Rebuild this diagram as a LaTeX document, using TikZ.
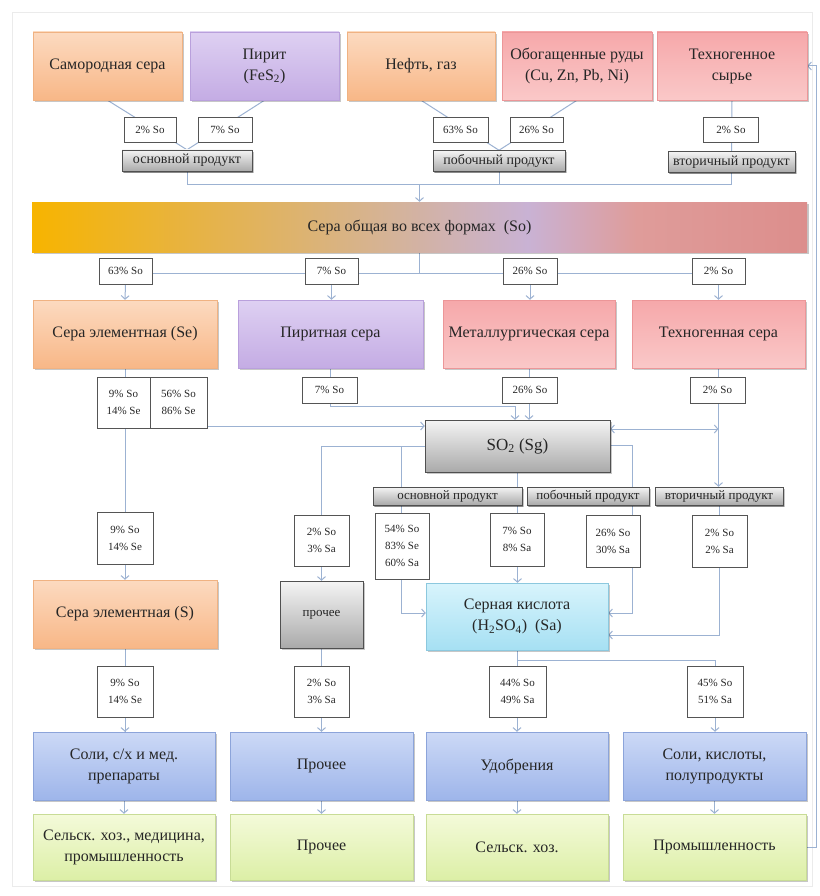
\documentclass[tikz,border=0pt]{standalone}
\usepackage{fontspec}
\setmainfont{Liberation Serif}
\usetikzlibrary{arrows.meta,shadows}
\pgfdeclarelayer{back}
\pgfdeclarelayer{bg}
\pgfsetlayers{back,bg,main}
\definecolor{ln}{HTML}{9CB2D2}
\definecolor{txt}{HTML}{262626}
\definecolor{barA}{HTML}{F7B400}
\definecolor{barB}{HTML}{DDB36E}
\definecolor{barC}{HTML}{C9B2D4}
\definecolor{barD}{HTML}{DF9C9A}
\definecolor{barE}{HTML}{DC8E8C}
\pgfdeclarehorizontalshading{barshade}{100bp}{color(0bp)=(barA); color(25bp)=(barA); color(42bp)=(barB); color(57bp)=(barC); color(64bp)=(barD); color(75bp)=(barE); color(100bp)=(barE)}
\tikzset{
  base/.style={inner sep=0pt, align=center, text=txt, font=\fontsize{16}{21}\selectfont,
    drop shadow={shadow xshift=1.5pt, shadow yshift=-2pt, fill=black, opacity=0.22}, line width=0.5pt},
  obox/.style={base, top color={rgb,255:red,252;green,218;blue,192}, bottom color={rgb,255:red,248;green,183;blue,135}, draw={rgb,255:red,240;green,178;blue,130}},
  vbox/.style={base, top color={rgb,255:red,222;green,208;blue,242}, bottom color={rgb,255:red,196;green,172;blue,228}, draw={rgb,255:red,185;green,160;blue,220}},
  rbox/.style={base, top color={rgb,255:red,246;green,168;blue,170}, bottom color={rgb,255:red,250;green,200;blue,200}, draw={rgb,255:red,236;green,150;blue,152}},
  gbox/.style={base, top color={rgb,255:red,244;green,244;blue,244}, bottom color={rgb,255:red,170;green,170;blue,170}, draw={rgb,255:red,80;green,80;blue,80}},
  cbox/.style={base, top color={rgb,255:red,216;green,244;blue,252}, bottom color={rgb,255:red,166;green,224;blue,243}, draw={rgb,255:red,140;green,200;blue,222}},
  bbox/.style={base, top color={rgb,255:red,204;green,217;blue,246}, bottom color={rgb,255:red,158;green,181;blue,234}, draw={rgb,255:red,140;green,164;blue,218}},
  lbox/.style={base, top color={rgb,255:red,244;green,250;blue,218}, bottom color={rgb,255:red,220;green,239;blue,166}, draw={rgb,255:red,200;green,220;blue,150}},
  lab/.style={gbox, font=\fontsize{13}{15}\selectfont, drop shadow={shadow xshift=1.2pt, shadow yshift=-1.8pt, fill=black, opacity=0.3}},
  pct/.style={inner sep=0pt, align=center, text=txt, fill=white, draw={rgb,255:red,85;green,85;blue,85}, line width=0.8pt, font=\fontsize{11}{17}\selectfont},
  conn/.style={draw=ln, line width=1pt},
  arr/.style={conn, -{Straight Barb[length=3.5pt,width=8pt]}},
  darr/.style={conn, {Straight Barb[length=3.5pt,width=8pt]}-{Straight Barb[length=3.5pt,width=8pt]}}
}
\begin{document}
\begin{tikzpicture}[x=1pt,y=-1pt]
\useasboundingbox (0,0) rectangle (819,896);
\begin{pgfonlayer}{back}
\fill[white] (0,0) rectangle (819,896);
\draw[black!8, line width=0.8pt] (12,12) rectangle (812,886);
\end{pgfonlayer}

% top row
\node[obox, minimum width=149, minimum height=68] (sam) at (107.5,66) {Самородная сера};
\node[vbox, minimum width=149, minimum height=68] (pir) at (264.5,66) {Пирит\\(FeS\textsubscript{2})};
\node[obox, minimum width=148, minimum height=68] (nef) at (421,66) {Нефть, газ};
\node[rbox, minimum width=150, minimum height=68] (obo) at (577,66) {Обогащенные руды\\(Cu, Zn, Pb, Ni)};
\node[rbox, minimum width=150, minimum height=68] (teh) at (732,66) {Техногенное\\сырье};

\node[pct, minimum width=52, minimum height=25] (p1) at (150,129.5) {2\% So};
\node[pct, minimum width=54, minimum height=25] (p2) at (225,129.5) {7\% So};
\node[pct, minimum width=55, minimum height=25] (p3) at (460.5,129.5) {63\% So};
\node[pct, minimum width=53, minimum height=25] (p4) at (536.5,129.5) {26\% So};
\node[pct, minimum width=55, minimum height=25] (p5) at (731,129.5) {2\% So};

\node[lab, minimum width=130, minimum height=21, font=\fontsize{14}{15}\selectfont] (osn1) at (187,160.5) {основной продукт};
\node[lab, minimum width=132, minimum height=21, font=\fontsize{14}{15}\selectfont] (pob1) at (499,161) {побочный продукт};
\node[lab, minimum width=127, minimum height=21, font=\fontsize{14}{15}\selectfont] (vto1) at (731.5,162) {вторичный продукт};

\coordinate (colY) at (0,185);

% bar
\node[base, shading=barshade, draw=none, minimum width=775, minimum height=50] (bar) at (419.5,227) {Сера общая во всех формах ~(So)};

\coordinate (disY) at (0,273);
\node[pct, minimum width=53, minimum height=26] (d1) at (125.5,271) {63\% So};
\node[pct, minimum width=53, minimum height=26] (d2) at (331.5,271) {7\% So};
\node[pct, minimum width=54, minimum height=26] (d3) at (530,271) {26\% So};
\node[pct, minimum width=53, minimum height=26] (d4) at (718.5,271) {2\% So};

% row 2
\node[obox, minimum width=184, minimum height=68] (se) at (125,334) {Сера элементная (Se)};
\node[vbox, minimum width=185, minimum height=68] (ps) at (330.5,334) {Пиритная сера};
\node[rbox, minimum width=172, minimum height=68] (ms) at (529,334) {Металлургическая сера};
\node[rbox, minimum width=173, minimum height=68] (ts) at (718.5,334) {Техногенная сера};

\node[pct, minimum width=53, minimum height=51] (dl) at (123.5,402.5) {9\% So\\14\% Se};
\node[pct, minimum width=57, minimum height=51] (dr) at (178.5,402.5) {56\% So\\86\% Se};
\node[pct, minimum width=55, minimum height=26] (e2) at (329.5,390) {7\% So};
\node[pct, minimum width=55, minimum height=26] (e3) at (530,390) {26\% So};
\node[pct, minimum width=55, minimum height=26] (e4) at (717.5,390) {2\% So};

\node[gbox, minimum width=185, minimum height=52, font=\fontsize{17}{21}\selectfont] (so2) at (517.5,446) {SO\textsubscript{2} (Sg)};

\node[lab, minimum width=149, minimum height=18] (osn2) at (447.5,496) {основной продукт};
\node[lab, minimum width=122, minimum height=18] (pob2) at (588,496) {побочный продукт};
\node[lab, minimum width=128, minimum height=18] (vto2) at (719,496) {вторичный продукт};

\node[pct, minimum width=56, minimum height=52] (f1) at (125,538) {9\% So\\14\% Se};
\node[pct, minimum width=55, minimum height=51] (f2) at (321.5,540.5) {2\% So\\3\% Sa};
\node[pct, minimum width=54, minimum height=66] (f3) at (402,546) {54\% So\\83\% Se\\60\% Sa};
\node[pct, minimum width=54, minimum height=53] (f4) at (517,539.5) {7\% So\\8\% Sa};
\node[pct, minimum width=54, minimum height=52] (f5) at (613,541) {26\% So\\30\% Sa};
\node[pct, minimum width=55, minimum height=52] (f6) at (719.5,541) {2\% So\\2\% Sa};

% row 3
\node[obox, minimum width=184, minimum height=68] (ses) at (125,614) {Сера элементная (S)};
\node[gbox, minimum width=83, minimum height=67, font=\fontsize{13}{15}\selectfont] (pro) at (321.5,614.5) {прочее};
\node[cbox, minimum width=182, minimum height=67] (h2) at (517,616.5) {Серная кислота\\(H\textsubscript{2}SO\textsubscript{4}) ~(Sa)};

\node[pct, minimum width=56, minimum height=51] (r1) at (125,691.5) {9\% So\\14\% Se};
\node[pct, minimum width=55, minimum height=51] (r2) at (321.5,691.5) {2\% So\\3\% Sa};
\node[pct, minimum width=57, minimum height=51] (r3) at (517.5,691.5) {44\% So\\49\% Sa};
\node[pct, minimum width=56, minimum height=51] (r4) at (715,691.5) {45\% So\\51\% Sa};

% blue row
\node[bbox, minimum width=182, minimum height=68] (b1) at (124,766) {Соли, с/х и мед.\\препараты};
\node[bbox, minimum width=183, minimum height=68] (b2) at (321.5,766) {Прочее};
\node[bbox, minimum width=182, minimum height=68] (b3) at (517,766) {Удобрения};
\node[bbox, minimum width=183, minimum height=68] (b4) at (714.5,766) {Соли, кислоты,\\полупродукты};

% green row
\node[lbox, minimum width=182, minimum height=66] (g1) at (124,847) {Сельск. хоз., медицина,\\промышленность};
\node[lbox, minimum width=183, minimum height=66] (g2) at (321.5,847) {Прочее};
\node[lbox, minimum width=182, minimum height=66] (g3) at (517,847) {Сельск. хоз.};
\node[lbox, minimum width=183, minimum height=66] (g4) at (714.5,847) {Промышленность};

\coordinate (fbX) at (816,0);
\coordinate (pyrY) at (515,406);
\coordinate (ljX) at (401,446);

\begin{pgfonlayer}{bg}
% top
\draw[conn] (sam.south) -- (osn1.north);
\draw[conn] (pir.south) -- (osn1.north);
\draw[conn] (nef.south) -- (pob1.north);
\draw[conn] (obo.south) -- (pob1.north);
\draw[conn] (teh.south) -- (vto1.north);
\draw[conn] (osn1.south) |- (colY -| vto1.south) -- (vto1.south);
\draw[conn] (pob1.south) -- (pob1.south |- colY);
\draw[arr] (bar.north |- colY) -- (bar.north);
% distribution
\draw[conn] (bar.south) -- (bar.south |- disY);
\draw[conn] (d1.center |- disY) -- (d4.center |- disY);
\draw[arr] (d1.south) -- (se.north);
\draw[arr] (d2.south) -- (d2.south |- ps.north);
\draw[arr] (d3.south) -- (d3.south |- ms.north);
\draw[arr] (d4.south) -- (d4.south |- ts.north);
% row 2 down
\draw[conn] (se.south) -- (se.south |- dl.north);
\draw[arr] (dr.east |- 0,426) -- (so2.west |- 0,426);
\draw[conn] (ps.south) |- (pyrY);
\draw[arr] (pyrY) -- (pyrY |- so2.north);
\draw[arr] (ms.south) -- (ms.south |- so2.north);
\draw[arr] (ts.south) -- (ts.south |- vto2.north);
\draw[darr] (so2.east |- 0,429) -- (ts.south |- 0,429);
% left column
\draw[arr] (dl.south -| se.south) -- (se.south |- ses.north);
\draw[conn] (ses.south) -- (ses.south |- b1.north);
\draw[arr] (r1.south) -- (r1.south |- b1.north);
\draw[arr] (b1.south) -- (b1.south |- g1.north);
% so2 left
\draw[conn] (so2.west |- ljX) -- (pro.north |- ljX);
\draw[arr] (pro.north |- ljX) -- (pro.north);
\draw[arr] (ljX) |- (h2.west |- 0,613);
\draw[conn] (pro.south) -- (pro.south |- r2.north);
\draw[arr] (r2.south) -- (r2.south |- b2.north);
\draw[arr] (b2.south) -- (b2.south |- g2.north);
% so2 down & right
\draw[arr] (so2.south) -- (so2.south |- h2.north);
\draw[arr] (so2.east |- 0,445) -| (632,613) -- (h2.east |- 0,613);
\draw[arr] (vto2.south) |- (h2.east |- 0,635);
% h2 down
\draw[arr] (h2.south) -- (h2.south |- b3.north);
\draw[conn] (h2.south |- 0,660) -| (r4.north);
\draw[arr] (r4.south) -- (r4.south |- b4.north);
\draw[arr] (b3.south) -- (b3.south |- g3.north);
\draw[arr] (b4.south) -- (b4.south |- g4.north);
% feedback
\draw[arr] (g4.east) -- (g4.east -| fbX) |- (teh.east);
\end{pgfonlayer}
\end{tikzpicture}
\end{document}
